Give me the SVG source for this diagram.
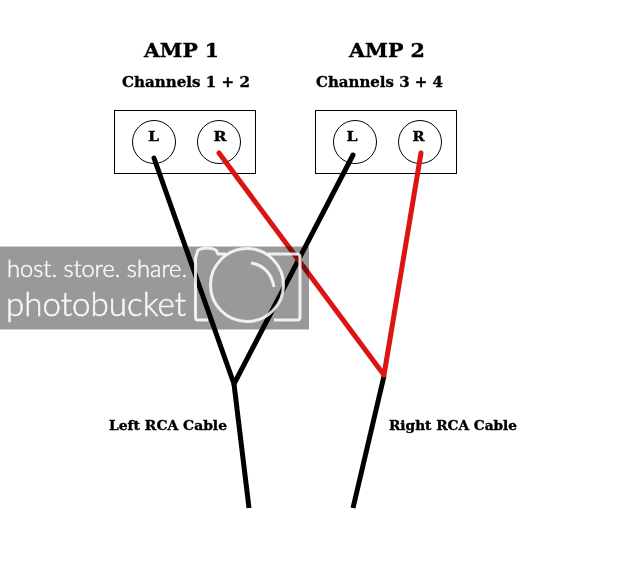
<svg xmlns="http://www.w3.org/2000/svg" width="617" height="576" viewBox="0 0 617 576">
<style>
.t{font-family:"DejaVu Serif","Liberation Serif",serif;font-weight:bold;fill:#000;stroke:#000;stroke-width:.35}
.h{font-size:19px}.s{font-size:14px}.c{font-size:12.5px}.p{font-size:13px}
.b{fill:#fff;stroke:#000;stroke-width:1}
.j{fill:none;stroke:#000;stroke-width:1}
.k{fill:none;stroke:#000;stroke-width:5;stroke-linecap:round}
.r{fill:none;stroke:#dc1414;stroke-width:5;stroke-linecap:round}
.w{font-family:Lato,"Open Sans",sans-serif;font-weight:300;fill:#fff;stroke:#fff;stroke-width:.5;opacity:.92}
.m{fill:none;stroke:#fff;stroke-width:3;opacity:.85;stroke-linejoin:round}
</style>
<rect width="617" height="576" fill="#fff"/>
<g id="amp1"><rect class="b" x="114.500" y="110.500" width="141" height="63"/>
<text class="t h" x="144" y="57" textLength="75" lengthAdjust="spacingAndGlyphs">AMP 1</text>
<text class="t s" x="122" y="87" textLength="128" lengthAdjust="spacingAndGlyphs">Channels 1 + 2</text></g>
<g id="amp2"><rect class="b" x="315.500" y="110.500" width="141" height="63"/>
<text class="t h" x="349" y="57" textLength="76" lengthAdjust="spacingAndGlyphs">AMP 2</text>
<text class="t s" x="316" y="87" textLength="127" lengthAdjust="spacingAndGlyphs">Channels 3 + 4</text></g>
<g id="amp1-l"><circle class="j" cx="154" cy="142" r="21.500"/><text class="t p" x="148" y="141" textLength="11" lengthAdjust="spacingAndGlyphs">L</text></g>
<g id="amp1-r"><circle class="j" cx="219" cy="142" r="21.500"/><text class="t p" x="213.500" y="141" textLength="13" lengthAdjust="spacingAndGlyphs">R</text></g>
<g id="amp2-l"><circle class="j" cx="355" cy="142" r="21.500"/><text class="t p" x="346.500" y="141" textLength="11" lengthAdjust="spacingAndGlyphs">L</text></g>
<g id="amp2-r"><circle class="j" cx="420" cy="142" r="21.500"/><text class="t p" x="412.500" y="141" textLength="12" lengthAdjust="spacingAndGlyphs">R</text></g>
<g id="connectors">
<path class="k" d="M154 158 234 384M353 155 234 384"/>
<path class="k" style="stroke-linecap:butt" d="M234 384 249 508M384 376 353 508"/>
<path class="r" d="M219 153 384 375M421 153 384 375"/>
</g>
<g id="cable-labels">
<text class="t c" x="109" y="430" textLength="118" lengthAdjust="spacingAndGlyphs">Left RCA Cable</text>
<text class="t c" x="389" y="430" textLength="128" lengthAdjust="spacingAndGlyphs">Right RCA Cable</text>
</g>
<g id="watermark">
<rect x="0" y="246.500" width="309" height="83" fill="#999" style="mix-blend-mode:multiply"/>
<text class="w" x="7" y="277" font-size="23" textLength="180" lengthAdjust="spacingAndGlyphs">host. store. share.</text>
<text class="w" x="6" y="316" font-size="33" textLength="180" lengthAdjust="spacingAndGlyphs">photobucket</text>
<path class="m" d="M208 320H198Q195.500 320 195.500 317V258L198 250Q207 246 216 250L218 254H226M268 254H297Q300 254 300 257V317Q300 320 297 320H274"/>
<circle class="m" cx="247" cy="285" r="36.500"/>
<path class="m" d="M251 263Q270 266 274 287"/>
</g>
</svg>
